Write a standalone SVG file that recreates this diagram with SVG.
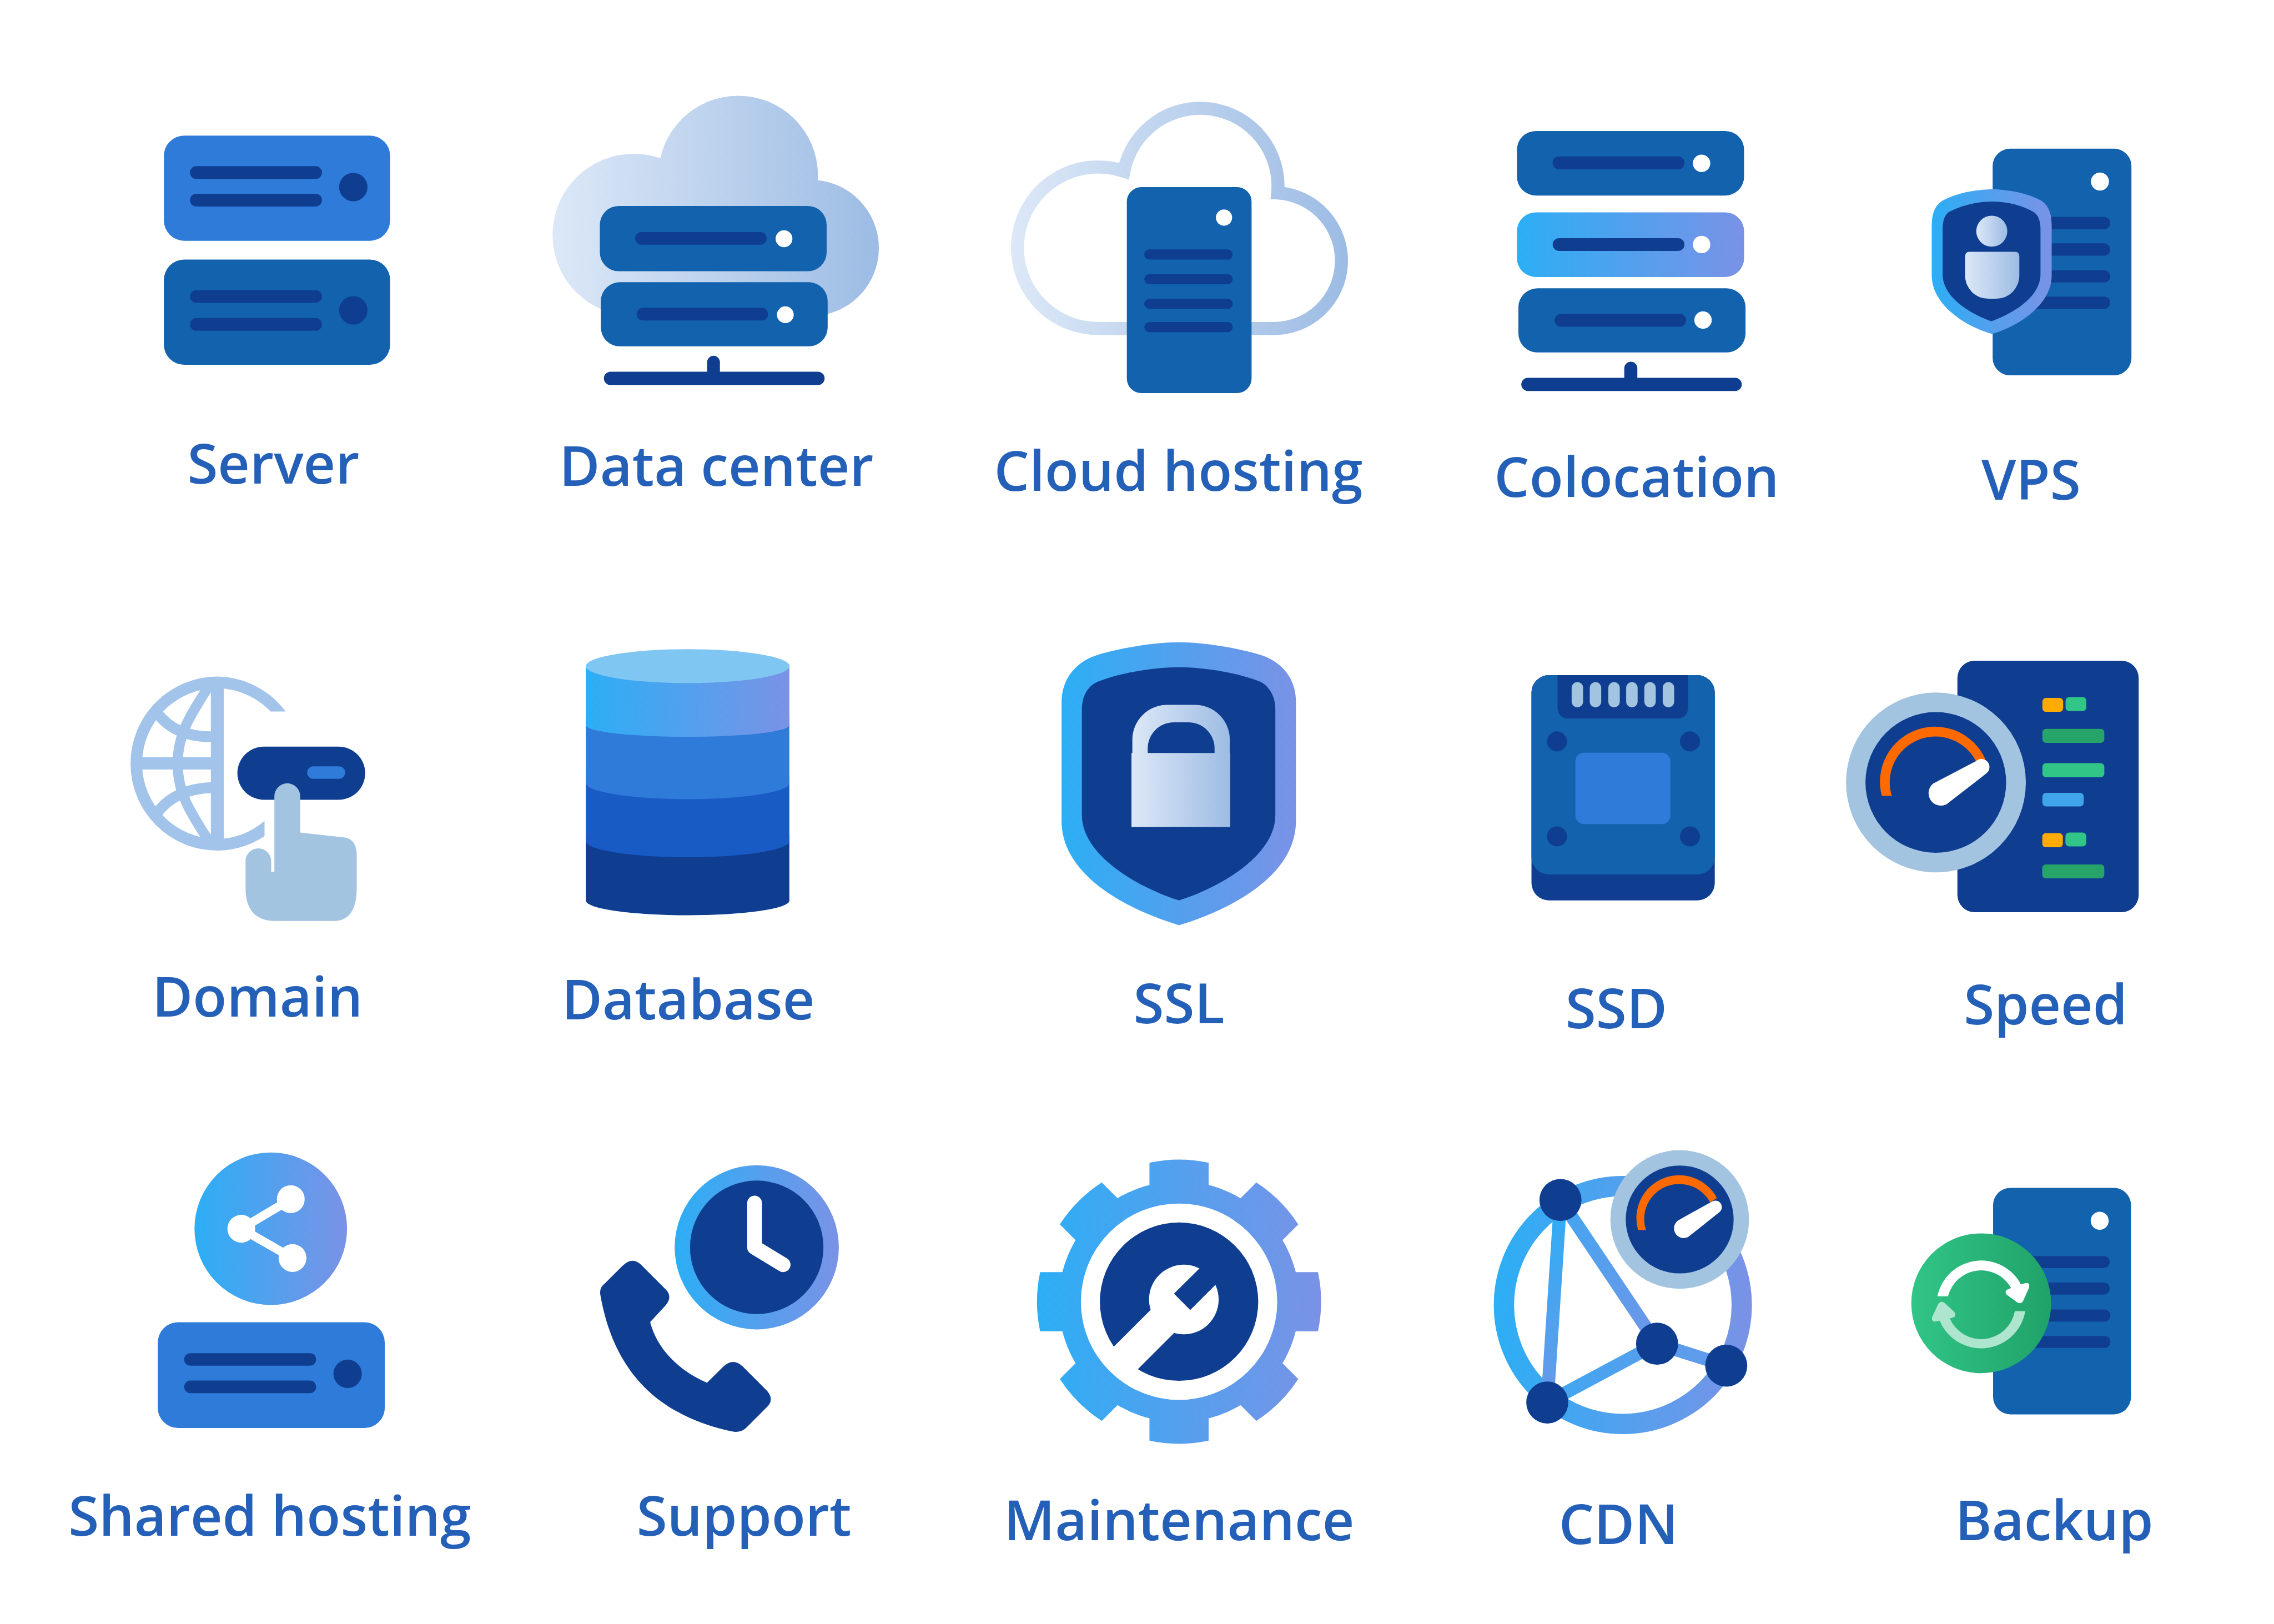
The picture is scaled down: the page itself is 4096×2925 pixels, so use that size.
<svg xmlns="http://www.w3.org/2000/svg" width="4096" height="2925" viewBox="0 0 4096 2925">
<style>
.a{fill:#2E7BD9}.m{fill:#1262AE}.d{fill:#0F3E91}.w{fill:#fff}.p{fill:#A3C4E0}.g{fill:#A3C4EA}
.or{fill:#FF6A00}.y{fill:#FFAB00}.g1{fill:#31C587}.g2{fill:#27A469}.b1{fill:#41A5EC}
.l{font-family:"Open Sans","Noto Sans",sans-serif;font-weight:600;font-size:38.3px;fill:#2460B8;text-anchor:middle}
</style>
<defs>
<linearGradient id="brand"><stop offset="0" stop-color="#2CAEF5"/><stop offset="1" stop-color="#7A92E6"/></linearGradient>
<linearGradient id="pale"><stop offset="0" stop-color="#DCE8F7"/><stop offset="1" stop-color="#9DBCE4"/></linearGradient>
<linearGradient id="green"><stop offset="0" stop-color="#31C587"/><stop offset="1" stop-color="#20A269"/></linearGradient>
<linearGradient id="gCloud" href="#pale" gradientUnits="userSpaceOnUse" x1="381" x2="606" y1="0" y2="0"/>
<linearGradient id="gHost" href="#pale" gradientUnits="userSpaceOnUse" x1="697" x2="929" y1="0" y2="0"/>
<linearGradient id="gRing" href="#brand" gradientUnits="userSpaceOnUse" x1="1030" x2="1208" y1="0" y2="0"/>
<linearGradient id="gGear" href="#brand" gradientUnits="userSpaceOnUse" x1="715" x2="911" y1="0" y2="0"/>
<linearGradient id="gL1" href="#brand" gradientUnits="userSpaceOnUse" x1="1076" y1="827" x2="1067" y2="1010"/>
<linearGradient id="gL2" href="#brand" gradientUnits="userSpaceOnUse" x1="1020" y1="790" x2="1150" y2="960"/>
<linearGradient id="gL3" href="#brand" gradientUnits="userSpaceOnUse" x1="1000" y1="0" x2="1260" y2="0"/>
</defs>
<g transform="scale(2.61224)">
<g id="connectors"></g>

<g id="server">
<rect class="a" x="113" y="93.5" width="156" height="72.5" rx="14"/>
<rect class="d" x="131" y="114.6" width="91" height="8.8" rx="4.4"/><rect class="d" x="131" y="133.6" width="91" height="8.8" rx="4.4"/>
<circle class="d" cx="243.6" cy="129" r="9.8"/>
<rect class="m" x="113" y="179" width="156" height="72.5" rx="14"/>
<rect class="d" x="131" y="200" width="91" height="8.8" rx="4.4"/><rect class="d" x="131" y="219.3" width="91" height="8.8" rx="4.4"/>
<circle class="d" cx="243.6" cy="214" r="9.8"/>
<text class="l" x="188.5" y="333.5">Server</text>
</g>

<g id="data-center">
<path fill="url(#gCloud)" d="M381 162a56 56 0 1 0 112 0a56 56 0 1 0 -112 0ZM454 121a55 55 0 1 0 110 0a55 55 0 1 0 -110 0ZM512 171a47 47 0 1 0 94 0a47 47 0 1 0 -94 0ZM437 130V218H559V130Z"/>
<rect class="m" x="413.6" y="142" width="156.4" height="45" rx="13"/>
<rect class="d" x="438" y="160" width="90.6" height="8.7" rx="4.3"/><circle class="w" cx="540.6" cy="164.6" r="5.8"/>
<rect class="m" x="414.3" y="194.6" width="156.4" height="44.2" rx="13"/>
<rect class="d" x="439" y="212.3" width="90.6" height="8.7" rx="4.3"/><circle class="w" cx="541.5" cy="217" r="5.8"/>
<rect class="d" x="416.4" y="256.3" width="152.2" height="9.2" rx="4.6"/>
<path class="d" d="M487.6 257V249.7A4.4 4.4 0 0 1 496.4 249.7V257Z"/>
<text class="l" x="494" y="335">Data center</text>
</g>

<g id="cloud-hosting">
<path fill="none" stroke="url(#gHost)" stroke-width="9" d="M790 226.5H757.5A55.7 55.7 0 1 1 775 118A53.6 53.6 0 0 1 881 133A46.8 46.8 0 0 1 877 226.5H850"/>
<rect class="m" x="777" y="129" width="86" height="142" rx="10"/>
<circle class="w" cx="844" cy="150" r="5.6"/>
<rect class="d" x="789" y="172" width="61" height="7" rx="3.5"/><rect class="d" x="789" y="189" width="61" height="7" rx="3.5"/>
<rect class="d" x="789" y="206" width="61" height="7" rx="3.5"/><rect class="d" x="789" y="222" width="61" height="7" rx="3.5"/>
<text class="l" x="812.5" y="338.5">Cloud hosting</text>
</g>

<g id="colocation">
<rect class="m" x="1046" y="90.3" width="156.6" height="44.5" rx="13"/>
<rect class="d" x="1070.6" y="107.9" width="90.9" height="8.9" rx="4.4"/><circle class="w" cx="1173.3" cy="112.6" r="6"/>
<rect fill="url(#brand)" x="1046" y="146.4" width="156.6" height="44.6" rx="13"/>
<rect class="d" x="1070.6" y="164.2" width="90.9" height="8.8" rx="4.4"/><circle class="w" cx="1173.3" cy="168.6" r="6"/>
<rect class="m" x="1047" y="198.8" width="156.6" height="44.2" rx="13"/>
<rect class="d" x="1072" y="216.4" width="90.6" height="8.9" rx="4.4"/><circle class="w" cx="1174.3" cy="220.7" r="6"/>
<rect class="d" x="1049" y="260.5" width="152" height="9.1" rx="4.5"/>
<path class="d" d="M1120 261V253.9A4.5 4.5 0 0 1 1129 253.9V261Z"/>
<text class="l" x="1128.5" y="342.7">Colocation</text>
</g>

<g id="vps">
<rect class="m" x="1374" y="102.5" width="95.7" height="156.3" rx="12"/>
<circle class="w" cx="1448" cy="125.2" r="6.2"/>
<rect class="d" x="1395" y="149.6" width="60" height="8.5" rx="4"/><rect class="d" x="1395" y="167.8" width="60" height="8.5" rx="4"/>
<rect class="d" x="1395" y="186.3" width="60" height="8.5" rx="4"/><rect class="d" x="1395" y="204.5" width="60" height="8.5" rx="4"/>
<path fill="url(#brand)" d="M1373.5 130.4Q1355 131 1342 137Q1332 141 1332 155V190C1332 210 1355 225 1373.5 230.3C1392 225 1414.7 210 1414.7 190V155Q1414.7 141 1405 137Q1392 131 1373.5 130.4Z"/>
<path class="d" d="M1373.5 139Q1358 139 1344 146Q1339.5 149 1339.5 158V189C1339.5 205 1358 216 1373 221.6C1388 216 1407 205 1407 189V158Q1407 149 1402 146Q1389 139 1373.5 139Z"/>
<circle fill="url(#pale)" cx="1373.4" cy="159.4" r="10.7"/>
<path fill="url(#pale)" d="M1358 173.6H1389.4Q1392.4 173.6 1392.4 177V190A16 16 0 0 1 1376.4 206H1371A16 16 0 0 1 1355 190V177Q1355 173.6 1358 173.6Z"/>
<text class="l" x="1400.5" y="344.7">VPS</text>
</g>

<g id="domain">
<path class="g" d="M150 466.5A60 60 0 0 0 150 586.5V578.5A52 52 0 0 1 150 474.5Z"/>
<path class="g" d="M150 466.5A60 60 0 0 1 197 490.6H186.6A52 52 0 0 0 150 474.5Z"/>
<path class="g" d="M150 586.5A60 60 0 0 0 182.4 576.5V566A52 52 0 0 1 150 578.5Z"/>
<rect class="g" x="145.4" y="468" width="8.9" height="117"/>
<rect class="g" x="92" y="522" width="58" height="8.6"/>
<path fill="none" stroke="#A3C4EA" stroke-width="7" d="M146 470C132 492 122.5 505 122.5 526.5C122.5 548 132 561 146 583"/>
<path fill="none" stroke="#A3C4EA" stroke-width="7.5" d="M108 491Q120 508 146 508M108 561Q120 544 146 543"/>
<rect class="d" x="163.7" y="514.8" width="88.1" height="36.6" rx="18.3"/>
<rect class="a" x="211.8" y="528.4" width="26.2" height="8.6" rx="4.3"/>
<path class="p" d="M189.2 549A8.9 8.9 0 0 1 207 549V574L238 577.5Q246 579 246 590V612Q246 635 230 635H190Q169.3 635 169.3 612V593A8.9 9 0 0 1 187 593V601H189.2Z"/>
<text class="l" x="177.5" y="701">Domain</text>
</g>

<g id="database">
<path class="d" d="M404 575V621A70 10 0 0 0 544.3 621V575Z"/>
<path fill="#185BC4" d="M404 535V580A70 11 0 0 0 544.3 580V535Z"/>
<path class="a" d="M404 495V540A70 11 0 0 0 544.3 540V495Z"/>
<path fill="url(#brand)" d="M404 459.3V500A70 8 0 0 0 544.3 500V459.3Z"/>
<ellipse fill="#7FC6F3" cx="474.2" cy="459.3" rx="70.2" ry="11.7"/>
<text class="l" x="474.5" y="703">Database</text>
</g>

<g id="ssl">
<path fill="url(#brand)" d="M812.8 442.8C795 442.8 772 447 757 451.5C742 456 732 468 732 484V566C732 605 780 628 813 638C846 628 893.6 605 893.6 566V484C893.6 468 884 456 869 451.5C854 447 831 442.8 812.8 442.8Z"/>
<path class="d" d="M812.8 460C795 460 772 464 757 470C750 473 746 480 746 489V562C746 590 785 612 813 620.8C841 612 879.4 590 879.4 562V489C879.4 480 875 473 869 470C854 464 831 460 812.8 460Z"/>
<path fill="url(#pale)" fill-rule="evenodd" d="M780.2 519.2H780.8V510A24 24 0 0 1 804.8 486H824A24 24 0 0 1 848 510V519.2H848.3V570.2H780.2ZM791.4 519.2H837.5V516A18 18 0 0 0 819.5 498H809.4A18 18 0 0 0 791.4 516Z"/>
<text class="l" x="813" y="705.5">SSL</text>
</g>

<g id="ssd">
<rect class="d" x="1056" y="465.5" width="126.4" height="155.3" rx="12"/>
<rect class="m" x="1056" y="465.5" width="126.4" height="137.4" rx="12"/>
<path class="d" d="M1074 465.5H1164V488.4A7 7 0 0 1 1157 495.4H1081A7 7 0 0 1 1074 488.4Z"/>
<g class="p">
<rect x="1083.7" y="470.3" width="7.9" height="17.4" rx="3.9"/><rect x="1096.2" y="470.3" width="7.9" height="17.4" rx="3.9"/>
<rect x="1109" y="470.3" width="7.9" height="17.4" rx="3.9"/><rect x="1121.3" y="470.3" width="7.9" height="17.4" rx="3.9"/>
<rect x="1133.8" y="470.3" width="7.9" height="17.4" rx="3.9"/><rect x="1146.5" y="470.3" width="7.9" height="17.4" rx="3.9"/>
</g>
<circle class="d" cx="1073.6" cy="511.2" r="6.9"/><circle class="d" cx="1165.3" cy="511.2" r="6.9"/>
<circle class="d" cx="1073.6" cy="576.7" r="6.9"/><circle class="d" cx="1165.3" cy="576.7" r="6.9"/>
<rect class="a" x="1086.3" y="519" width="65.5" height="49.2" rx="6"/>
<text class="l" x="1114.5" y="709">SSD</text>
</g>

<g id="speed">
<rect class="d" x="1349.7" y="455.5" width="125" height="173.5" rx="12"/>
<circle class="p" cx="1334.9" cy="539.5" r="62"/>
<circle class="d" cx="1334.8" cy="539.5" r="48.5"/>
<path class="or" d="M1297.6 548.8A38 38 0 0 1 1369 523.5L1362.6 525A31.5 31.5 0 0 0 1304.5 548.8Z"/>
<path class="w" d="M1362.5 524.8L1333 540.2A8.6 8.6 0 0 0 1342 554.7L1370 533A5 5 0 0 0 1362.5 524.8Z"/>
<rect class="y" x="1408.3" y="481.2" width="14.3" height="9.6" rx="2.5"/><rect class="g1" x="1424.3" y="480.6" width="14.3" height="9.7" rx="2.5"/>
<rect class="g2" x="1408.3" y="502.5" width="42.7" height="9.7" rx="2.5"/>
<rect class="g1" x="1408.3" y="526.2" width="42.7" height="9.7" rx="2.5"/>
<rect class="b1" x="1408.3" y="546.7" width="28.5" height="9.3" rx="2.5"/>
<rect class="y" x="1408.2" y="574.4" width="14.2" height="9.8" rx="2.5"/><rect class="g1" x="1424.2" y="574" width="14.3" height="9.6" rx="2.5"/>
<rect class="g2" x="1408.2" y="596" width="42.8" height="9.6" rx="2.5"/>
<text class="l" x="1410.5" y="706.3">Speed</text>
</g>

<g id="shared-hosting">
<circle fill="url(#brand)" cx="186.7" cy="847.2" r="52.6"/>
<path fill="none" stroke="#fff" stroke-width="6" d="M200.5 826.8L166.4 847.2L201.7 867.4"/>
<circle class="w" cx="200.5" cy="826.8" r="9.6"/><circle class="w" cx="201.7" cy="867.4" r="9.6"/><circle class="w" cx="166.4" cy="847.2" r="9.6"/>
<rect class="a" x="108.8" y="911.7" width="156.5" height="72.9" rx="14"/>
<rect class="d" x="127" y="933" width="91" height="8.6" rx="4.3"/><rect class="d" x="127" y="951.9" width="91" height="8.7" rx="4.3"/>
<circle class="d" cx="239.7" cy="947.2" r="9.8"/>
<text class="l" x="186" y="1059">Shared hosting</text>
</g>

<g id="support">
<circle fill="url(#brand)" cx="521.8" cy="860" r="56.6"/>
<circle class="d" cx="521.8" cy="860" r="46"/>
<path fill="none" stroke="#fff" stroke-width="10.2" stroke-linecap="round" stroke-linejoin="round" d="M520.3 829.5V860L540 872"/>
<path class="d" d="M429 873Q435.8 866 442 872L459 889Q464 894 459 900L448.3 911.6C453 930 468 945 487.5 953.4L499 942Q505.6 936 512 942L529 959Q534 965 529 970L514 985Q510 988 505 987C458 977 424 950 414 893Q413 888 417 885Z"/>
<text class="l" x="513" y="1059">Support</text>
</g>

<g id="maintenance">
<path fill="url(#gGear)" d="M813 814.5A83 83 0 1 1 813 980.5A83 83 0 1 1 813 814.5Z
M792.6 819.5V801.7A98 98 0 0 1 833.4 801.7V819.5Z
M853.7 827.9L866.3 815.3A98 98 0 0 1 895.2 844.2L882.6 856.8Z
M891 877.1H908.8A98 98 0 0 1 908.8 917.9H891Z
M882.6 938.2L895.2 950.8A98 98 0 0 1 866.3 979.7L853.7 967.1Z
M833.4 975.5V993.3A98 98 0 0 1 792.6 993.3V975.5Z
M772.3 967.1L759.7 979.7A98 98 0 0 1 730.8 950.8L743.4 938.2Z
M735 917.9H717.2A98 98 0 0 1 717.2 877.1H735Z
M743.4 856.8L730.8 844.2A98 98 0 0 1 759.7 815.3L772.3 827.9Z"/>
<circle class="w" cx="813" cy="897.5" r="67.7"/>
<circle class="d" cx="813" cy="897.5" r="54.6"/>
<circle class="w" cx="816.3" cy="896" r="24"/>
<polygon class="w" points="793.3,903.2 809.5,919.1 777,951.6 761,935.5"/>
<polygon class="d" points="835,866.7 809.5,892 820.7,903.2 846,878"/>
<text class="l" x="813" y="1062">Maintenance</text>
</g>

<g id="cdn">
<circle fill="none" stroke="url(#gRing)" stroke-width="14" cx="1119" cy="899.8" r="82"/>
<path fill="none" stroke="url(#gL1)" stroke-width="9" d="M1076 827.4L1066.9 967"/>
<path fill="none" stroke="url(#gL2)" stroke-width="9" d="M1076 827.4L1142.6 926.5"/>
<path fill="none" stroke="url(#gL3)" stroke-width="9" d="M1142.6 926.5L1190.3 941.6M1142.6 926.5L1066.9 967"/>
<circle class="d" cx="1076" cy="827.4" r="14.5"/><circle class="d" cx="1142.6" cy="926.5" r="14.5"/>
<circle class="d" cx="1190.3" cy="941.6" r="14.5"/><circle class="d" cx="1066.9" cy="967" r="14.5"/>
<circle class="p" cx="1158.2" cy="840.8" r="47.8"/>
<circle class="d" cx="1158.2" cy="840.8" r="37.2"/>
<path class="or" d="M1129.5 848A29.5 29.5 0 0 1 1183.9 826L1179.2 829A24.2 24.2 0 0 0 1134.9 848Z"/>
<path class="w" d="M1179.9 828.8L1157.9 841A6.6 6.6 0 0 0 1164 852.9L1185.6 835.8A3.9 3.9 0 0 0 1179.9 828.8Z"/>
<text class="l" x="1116" y="1064.7">CDN</text>
</g>

<g id="backup">
<rect class="m" x="1374.3" y="819" width="95.1" height="156.2" rx="12"/>
<circle class="w" cx="1447.8" cy="841.7" r="6.2"/>
<rect class="d" x="1395" y="866" width="59.7" height="8.3" rx="4"/><rect class="d" x="1395" y="884.3" width="59.7" height="8.3" rx="4"/>
<rect class="d" x="1395" y="902.9" width="60.2" height="8.3" rx="4"/><rect class="d" x="1395" y="921.1" width="60.2" height="8.3" rx="4"/>
<circle fill="url(#green)" cx="1366.1" cy="898.6" r="48.2"/>
<path class="w" d="M1335.9 893.8A30.9 30.9 0 0 1 1393.5 885.6L1396.5 884.7Q1400 884 1399 888L1395 897Q1393.5 899.5 1391 898L1383.5 892.5Q1382 890 1384.5 889L1386.7 888A23.6 23.6 0 0 0 1343.2 893.8Z"/>
<path fill="#AEE5CE" d="M1396.5 904A30.9 30.9 0 0 1 1337.5 910.6L1334.5 911.2Q1331.5 911.5 1332.3 908L1336.5 899Q1338.5 896.5 1341 898.5L1347.5 904.5Q1349.5 907.5 1346.5 908.5L1344.4 909A23.6 23.6 0 0 0 1389.3 904Z"/>
<text class="l" x="1416.5" y="1062">Backup</text>
</g>
</g>
</svg>
